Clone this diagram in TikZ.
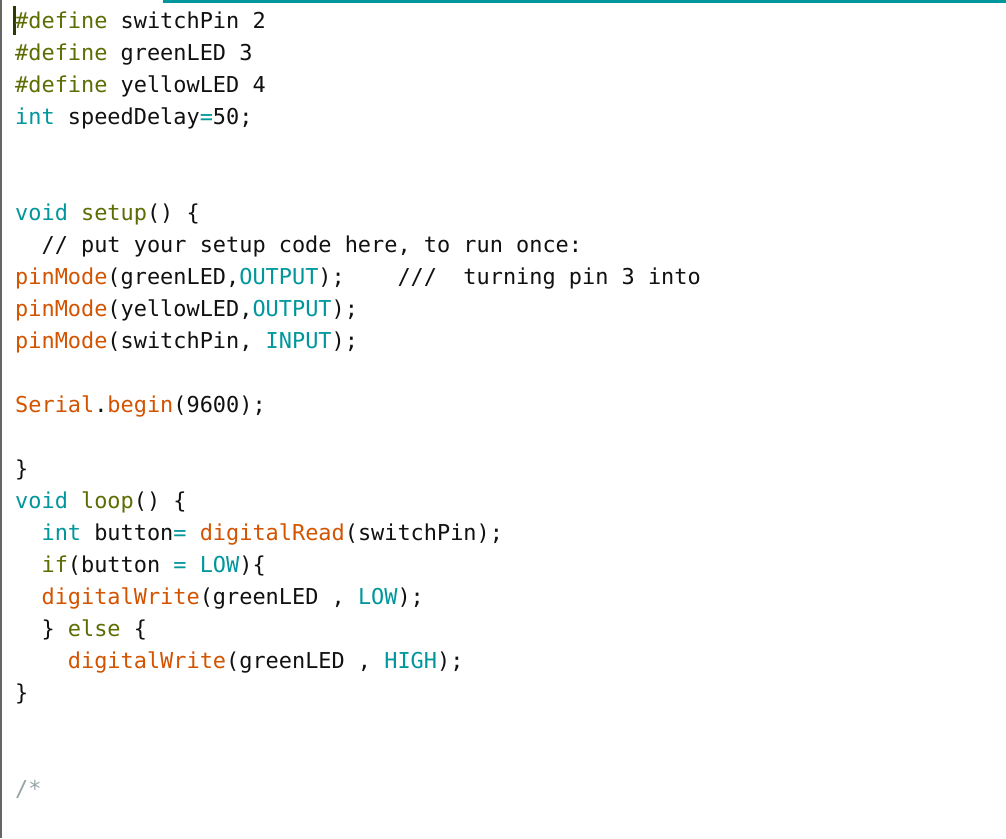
\documentclass[tikz,border=0pt]{standalone}
\usepackage{fontspec}
\setmonofont{DejaVu Sans Mono}
\definecolor{kw}{HTML}{5E6D03}
\definecolor{tl}{HTML}{00979C}
\definecolor{og}{HTML}{D35400}
\definecolor{cm}{HTML}{95A5A6}
\definecolor{tx}{HTML}{111111}
\newcommand{\Kw}[1]{\textcolor{kw}{#1}}
\newcommand{\Tl}[1]{\textcolor{tl}{#1}}
\newcommand{\Og}[1]{\textcolor{og}{#1}}
\begin{document}
\begin{tikzpicture}[x=1pt,y=-1pt,
  ln/.style={anchor=base west,inner sep=0pt,font=\ttfamily\fontsize{21.9}{24}\selectfont,text=tx}]
\useasboundingbox[fill=white] (0,0) rectangle (1006,838);
\fill[tl] (163,0) rectangle (1006,3);
\fill[black!60] (0,0) rectangle (2,838);
\fill[kw!50!black] (13,6) rectangle (16,35);
\def\X{15}
\node[ln] (l1) at (\X,28) {\Kw{\#define} switchPin 2};
\node[ln] (l2) at (\X,60) {\Kw{\#define} greenLED 3};
\node[ln] (l3) at (\X,92) {\Kw{\#define} yellowLED 4};
\node[ln] (l4) at (\X,124) {\Tl{int} speedDelay\Tl{=}50;};
\node[ln] (l5) at (\X,220) {\Tl{void} \Kw{setup}() \{};
\node[ln] (l6) at (\X,252) {~~// put your setup code here, to run once:};
\node[ln] (l7) at (\X,284) {\Og{pinMode}(greenLED,\Tl{OUTPUT});~~~~///~~turning pin 3 into};
\node[ln] (l8) at (\X,316) {\Og{pinMode}(yellowLED,\Tl{OUTPUT});};
\node[ln] (l9) at (\X,348) {\Og{pinMode}(switchPin, \Tl{INPUT});};
\node[ln] (l10) at (\X,412) {\Og{Serial}.\Og{begin}(9600);};
\node[ln] (l11) at (\X,476) {\}};
\node[ln] (l12) at (\X,508) {\Tl{void} \Kw{loop}() \{};
\node[ln] (l13) at (\X,540) {~~\Tl{int} button\Tl{=} \Og{digitalRead}(switchPin);};
\node[ln] (l14) at (\X,572) {~~\Kw{if}(button \Tl{=} \Tl{LOW})\{};
\node[ln] (l15) at (\X,604) {~~\Og{digitalWrite}(greenLED , \Tl{LOW});};
\node[ln] (l16) at (\X,636) {~~\} \Kw{else} \{};
\node[ln] (l17) at (\X,668) {~~~~\Og{digitalWrite}(greenLED , \Tl{HIGH});};
\node[ln] (l18) at (\X,700) {\}};
\node[ln] (l19) at (\X,796) {\textcolor{cm}{/*}};
\end{tikzpicture}
\end{document}
